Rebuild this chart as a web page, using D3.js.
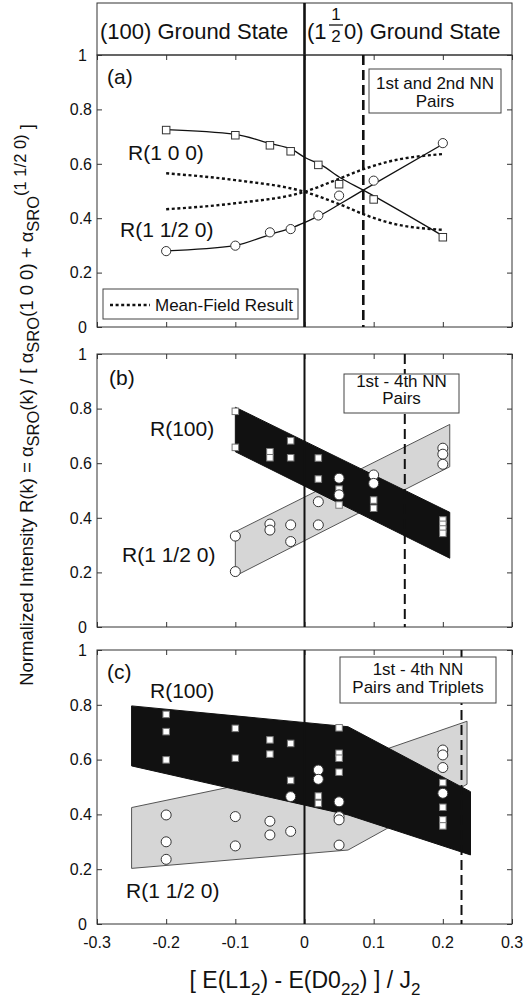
<!DOCTYPE html>
<html><head><meta charset="utf-8">
<script src="https://cdn.jsdelivr.net/npm/d3@7"></script>
<style>body{margin:0;background:#fff}text{font-family:"Liberation Sans",Arial,sans-serif;fill:#111}</style>
</head><body>
<svg id="c" width="526" height="1005"></svg>
<script>
// ---------- data ----------
const xTicks = [-0.3,-0.2,-0.1,0,0.1,0.2,0.3];
const xTickLabels = ["-0.3","-0.2","-0.1","0","0.1","0.2","0.3"];
const yTicks = [0,0.2,0.4,0.6,0.8,1];
const yTickLabels = ["0","0.2","0.4","0.6","0.8","1"];

// panel (a)
const aX    = [-0.2,-0.1,-0.05,-0.02,0.02,0.05,0.1,0.2];
const aR100 = [0.724,0.705,0.668,0.646,0.596,0.525,0.469,0.330];
const aR1h  = [0.279,0.299,0.348,0.360,0.410,0.483,0.538,0.676];
const aFitX   = [-0.2,-0.1,-0.05,-0.017,0,0.024,0.053,0.085,0.2];
const aFit100 = [0.726,0.708,0.675,0.651,0.624,0.596,0.547,0.503,0.335];
const aFit1h  = [0.280,0.300,0.340,0.366,0.384,0.412,0.455,0.503,0.672];
const mfX   = [-0.2,-0.1,0,0.05,0.085,0.12,0.2];
const mf100 = [0.565,0.540,0.497,0.452,0.415,0.385,0.357];
const mf1h  = [0.433,0.455,0.497,0.545,0.580,0.607,0.636];
const aBoundary = 0.085;

// panel (b)
const bBandX = [-0.1,0.21];
const bBand100Top = [0.805,0.420];
const bBand100Bot = [0.642,0.252];
const bBand1hTop  = [0.349,0.742];
const bBand1hBot  = [0.187,0.587];
const bSqX = [-0.1,-0.1,-0.05,-0.05,-0.02,-0.02,0.02,0.02,0.05,0.05,0.1,0.1,0.2,0.2,0.2,0.2];
const bSqY = [0.790,0.658,0.642,0.620,0.682,0.620,0.619,0.542,0.505,0.447,0.465,0.435,0.392,0.376,0.359,0.343];
const bCiX = [-0.1,-0.1,-0.05,-0.05,-0.02,-0.02,0.02,0.02,0.05,0.05,0.1,0.1,0.2,0.2,0.2];
const bCiY = [0.333,0.203,0.377,0.355,0.374,0.313,0.459,0.374,0.545,0.484,0.557,0.526,0.655,0.633,0.596];
const bBoundary = 0.145;

// panel (c)
const cBand100X   = [-0.25,0.063,0.24];
const cBand100Top = [0.796,0.720,0.483];
const cBand100Bot = [0.577,0.398,0.252];
const cBand1hX    = [-0.25,0.063,0.235];
const cBand1hTop  = [0.425,0.590,0.740];
const cBand1hBot  = [0.203,0.270,0.510];
const cSqX = [-0.2,-0.2,-0.2,-0.1,-0.1,-0.05,-0.05,-0.02,-0.02,0.02,0.02,0.05,0.05,0.05,0.05,0.2,0.2,0.2,0.2];
const cSqY = [0.765,0.702,0.599,0.714,0.605,0.672,0.620,0.659,0.524,0.467,0.440,0.716,0.623,0.605,0.554,0.516,0.426,0.380,0.358];
const cCiX = [-0.2,-0.2,-0.2,-0.1,-0.1,-0.05,-0.05,-0.02,-0.02,0.02,0.02,0.05,0.05,0.05,0.05,0.2,0.2,0.2,0.2];
const cCiY = [0.398,0.300,0.236,0.392,0.285,0.375,0.325,0.338,0.465,0.562,0.528,0.446,0.392,0.380,0.288,0.635,0.617,0.571,0.477];
const cBoundary = 0.227;

// ---------- drawing ----------
const svg = d3.select("#c");
const X0 = 97, X1 = 512;
const x = d3.scaleLinear().domain([-0.3,0.3]).range([X0,X1]);
const FRAME = "#333";

const panels = [
  {top:55,  bottom:327},
  {top:354, bottom:627},
  {top:650, bottom:924}
];
panels.forEach(p => p.y = d3.scaleLinear().domain([0,1]).range([p.bottom,p.top]));

// header box
const hdr = svg.append("g");
hdr.append("rect").attr("x",X0).attr("y",3).attr("width",X1-X0).attr("height",52)
  .attr("fill","none").attr("stroke",FRAME).attr("stroke-width",1);
hdr.append("line").attr("x1",x(0)).attr("x2",x(0)).attr("y1",3).attr("y2",55)
  .attr("stroke","#111").attr("stroke-width",2.6);
hdr.append("text").attr("x",100).attr("y",39).attr("font-size",22).text("(100) Ground State");
hdr.append("text").attr("x",307).attr("y",39).attr("font-size",22).text("(1");
hdr.append("text").attr("x",336).attr("y",20).attr("font-size",17).attr("text-anchor","middle").text("1");
hdr.append("line").attr("x1",329).attr("x2",343).attr("y1",25).attr("y2",25).attr("stroke","#111").attr("stroke-width",1.3);
hdr.append("text").attr("x",336).attr("y",42).attr("font-size",17).attr("text-anchor","middle").text("2");
hdr.append("text").attr("x",344).attr("y",39).attr("font-size",22).text("0) Ground State");

function frame(g, p, withXLabels){
  const y = p.y;
  g.append("rect").attr("x",X0).attr("y",p.top).attr("width",X1-X0).attr("height",p.bottom-p.top)
    .attr("fill","none").attr("stroke",FRAME).attr("stroke-width",1);
  const L = g.append("g").attr("transform",`translate(${X0},0)`)
    .call(d3.axisLeft(y).tickValues(yTicks).tickSize(-5).tickFormat(""));
  const R = g.append("g").attr("transform",`translate(${X1},0)`)
    .call(d3.axisRight(y).tickValues(yTicks).tickSize(-5).tickFormat(""));
  const T = g.append("g").attr("transform",`translate(0,${p.top})`)
    .call(d3.axisTop(x).tickValues(xTicks).tickSize(-5).tickFormat(""));
  const B = g.append("g").attr("transform",`translate(0,${p.bottom})`)
    .call(d3.axisBottom(x).tickValues(xTicks).tickSize(-5).tickFormat(""));
  [L,R,T,B].forEach(a => { a.select(".domain").remove(); a.selectAll("line").attr("stroke",FRAME); });
  yTicks.forEach((v,i) => {
    const lab = yTickLabels[i];
    const short = lab.length === 1;
    g.append("text").attr("x", short ? 87 : 92).attr("y", y(v)).attr("dy","0.36em")
      .attr("text-anchor","end").attr("font-size",16).text(lab);
  });
  if (withXLabels){
    xTicks.forEach((v,i) => {
      g.append("text").attr("x",x(v)).attr("y",948).attr("text-anchor","middle")
        .attr("font-size",16).text(xTickLabels[i]);
    });
  }
}
function vline(g,p,xv,w,dash){
  const l = g.append("line").attr("x1",x(xv)).attr("x2",x(xv)).attr("y1",p.top).attr("y2",p.bottom)
    .attr("stroke","#111").attr("stroke-width",w);
  if (dash) l.attr("stroke-dasharray",dash);
}
function infoBox(g, x0,y0,x1,y1, lines, baselines){
  g.append("rect").attr("x",x0).attr("y",y0).attr("width",x1-x0).attr("height",y1-y0)
    .attr("fill","#fff").attr("stroke","#444").attr("stroke-width",1);
  lines.forEach((t,i)=> g.append("text").attr("x",(x0+x1)/2).attr("y",baselines[i])
    .attr("text-anchor","middle").attr("font-size",17).text(t));
}
function band(g, p, xs, top, bot, fill, stroke){
  const pts = xs.map((v,i)=>[x(v),p.y(top[i])]).concat(xs.map((v,i)=>[x(v),p.y(bot[i])]).reverse());
  g.append("path").attr("d", d3.line()(pts)+"Z").attr("fill",fill).attr("stroke",stroke).attr("stroke-width",1);
}
function squares(g,p,xs,ys,size,fill,stroke){
  g.selectAll(null).data(xs.map((v,i)=>[v,ys[i]])).join("rect")
    .attr("x",d=>x(d[0])-size/2).attr("y",d=>p.y(d[1])-size/2).attr("width",size).attr("height",size)
    .attr("fill",fill).attr("stroke",stroke).attr("stroke-width",1);
}
function circles(g,p,xs,ys,r){
  g.selectAll(null).data(xs.map((v,i)=>[v,ys[i]])).join("circle")
    .attr("cx",d=>x(d[0])).attr("cy",d=>p.y(d[1])).attr("r",r)
    .attr("fill","#fff").attr("stroke","#333").attr("stroke-width",1);
}

// ----- panel a -----
{
  const p = panels[0], g = svg.append("g");
  frame(g,p,false);
  vline(g,p,0,2.6);
  vline(g,p,aBoundary,2.6,"10,5");
  const line = d3.line().x(d=>x(d[0])).y(d=>p.y(d[1]));
  g.append("path").attr("d", line.curve(d3.curveMonotoneX)(aFitX.map((v,i)=>[v,aFit100[i]])))
    .attr("fill","none").attr("stroke","#111").attr("stroke-width",1.3);
  g.append("path").attr("d", line.curve(d3.curveMonotoneX)(aFitX.map((v,i)=>[v,aFit1h[i]])))
    .attr("fill","none").attr("stroke","#111").attr("stroke-width",1.3);
  [mf100, mf1h].forEach(s=>{
    g.append("path").attr("d", line.curve(d3.curveMonotoneX)(mfX.map((v,i)=>[v,s[i]])))
      .attr("fill","none").attr("stroke","#111").attr("stroke-width",2.4).attr("stroke-dasharray","3,2.6");
  });
  squares(g,p,aX,aR100,7.5,"#fff","#333");
  circles(g,p,aX,aR1h,4.6);
  g.append("text").attr("x",107).attr("y",84).attr("font-size",21).text("(a)");
  g.append("text").attr("x",128).attr("y",160).attr("font-size",21).text("R(1 0 0)");
  g.append("text").attr("x",120).attr("y",237).attr("font-size",21).text("R(1 1/2 0)");
  infoBox(g,369,69,501,113,["1st and 2nd NN","Pairs"],[89,107]);
  g.append("rect").attr("x",103).attr("y",289).attr("width",195).attr("height",30)
    .attr("fill","#fff").attr("stroke","#444").attr("stroke-width",1);
  g.append("line").attr("x1",110).attr("x2",150).attr("y1",305).attr("y2",305)
    .attr("stroke","#111").attr("stroke-width",2.4).attr("stroke-dasharray","3,2.6");
  g.append("text").attr("x",155).attr("y",311).attr("font-size",17).text("Mean-Field Result");
}

// ----- panel b -----
{
  const p = panels[1], g = svg.append("g");
  band(g,p,bBandX,bBand1hTop,bBand1hBot,"#d6d6d6","#555");
  band(g,p,bBandX,bBand100Top,bBand100Bot,"#111","#111");
  frame(g,p,false);
  vline(g,p,0,2);
  vline(g,p,bBoundary,2,"10,5");
  squares(g,p,bSqX,bSqY,6.5,"#fff","#777");
  circles(g,p,bCiX,bCiY,5);
  g.append("text").attr("x",109).attr("y",385).attr("font-size",21).text("(b)");
  g.append("text").attr("x",150).attr("y",436).attr("font-size",21).text("R(100)");
  g.append("text").attr("x",122).attr("y",562).attr("font-size",21).text("R(1 1/2 0)");
  infoBox(g,344,374,459,413,["1st - 4th NN","Pairs"],[387,404]);
}

// ----- panel c -----
{
  const p = panels[2], g = svg.append("g");
  band(g,p,cBand1hX,cBand1hTop,cBand1hBot,"#d6d6d6","#555");
  band(g,p,cBand100X,cBand100Top,cBand100Bot,"#111","#111");
  frame(g,p,true);
  vline(g,p,0,2);
  vline(g,p,cBoundary,2,"10,5");
  squares(g,p,cSqX,cSqY,6.5,"#fff","#777");
  circles(g,p,cCiX,cCiY,5);
  g.append("text").attr("x",107).attr("y",679).attr("font-size",21).text("(c)");
  g.append("text").attr("x",150).attr("y",698).attr("font-size",21).text("R(100)");
  g.append("text").attr("x",126).attr("y",898).attr("font-size",21).text("R(1 1/2 0)");
  infoBox(g,340,657,496,703,["1st - 4th NN","Pairs and Triplets"],[675,693]);
}

// ----- x axis title -----
{
  const t = svg.append("text").attr("x",305).attr("y",988).attr("text-anchor","middle").attr("font-size",23);
  t.append("tspan").text("[ E(L1");
  t.append("tspan").attr("dy",7).attr("font-size",17).text("2");
  t.append("tspan").attr("dy",-7).text(") -  E(D0");
  t.append("tspan").attr("dy",7).attr("font-size",17).text("22");
  t.append("tspan").attr("dy",-7).text(") ] / J");
  t.append("tspan").attr("dy",7).attr("font-size",17).text("2");
}

// ----- y axis title -----
{
  const t = svg.append("text").attr("transform","translate(33,405) rotate(-90)")
    .attr("text-anchor","middle").attr("font-size",18.5);
  t.append("tspan").text("Normalized Intensity  R(k)  =  α");
  t.append("tspan").attr("dy",6).attr("font-size",16.5).text("SRO");
  t.append("tspan").attr("dy",-6).text("(k) / [ α");
  t.append("tspan").attr("dy",6).attr("font-size",16.5).text("SRO");
  t.append("tspan").attr("dy",-6).text("(1 0 0) + α");
  t.append("tspan").attr("dy",6).attr("font-size",16.5).text("SRO");
  t.append("tspan").attr("dy",-13).attr("font-size",16.5).text("(1 1/2 0)");
  t.append("tspan").attr("dy",7).text(" ]");
}
</script>
</body></html>
